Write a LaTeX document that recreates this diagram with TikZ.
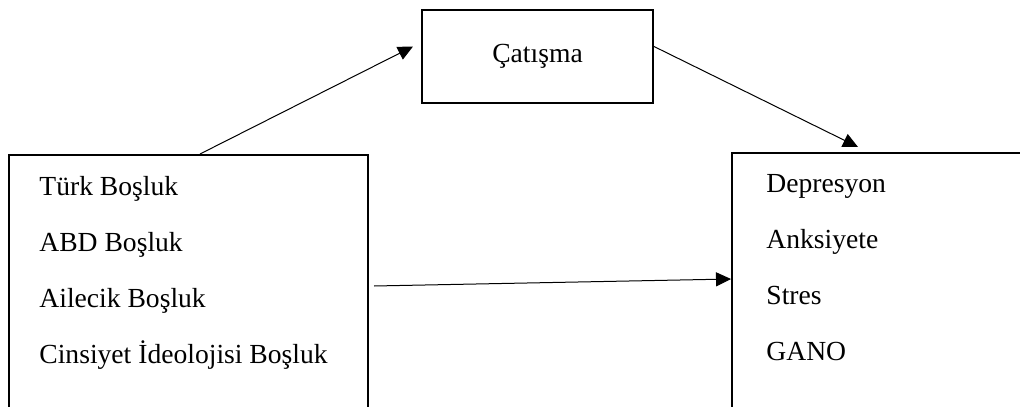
\documentclass[tikz,border=0pt]{standalone}
\usepackage{fontspec}
\setmainfont{Liberation Serif}
\usetikzlibrary{arrows.meta}
\tikzset{
  kutu/.style={draw,line width=1pt,inner sep=0pt,anchor=north west,font=\fontsize{13.8}{16}\selectfont},
  ok/.style={-{Triangle[length=7.5pt,width=7pt]},line width=0.5pt},
  yazi/.style={anchor=base west,inner sep=0pt,font=\fontsize{13.8}{16}\selectfont}
}
\begin{document}
\begin{tikzpicture}[x=0.5pt,y=-0.5pt]
\useasboundingbox (0,0) rectangle (1020,406);
\clip (0,0) rectangle (1020,406);
\node[kutu,minimum width=115.5pt,minimum height=46.5pt] (cat) at (421,9) {Çatışma};
\node[kutu,minimum width=179.5pt,minimum height=143pt] (sol) at (8,154) {};
\node[kutu,minimum width=154.5pt,minimum height=143pt] (sag) at (731,152) {};
\foreach \ad [count=\i] in {Türk Boşluk,ABD Boşluk,Ailecik Boşluk,Cinsiyet İdeolojisi Boşluk}
  \node[yazi] (sol-\i) at (39,{195+56*(\i-1)}) {\ad};
\foreach \ad [count=\i] in {Depresyon,Anksiyete,Stres,GANO}
  \node[yazi] (sag-\i) at (766,{192+56*(\i-1)}) {\ad};
\draw[ok] ([xshift=96pt]sol.north west) -- ([xshift=-4pt,yshift=5pt]cat.west);
\draw[ok] ([yshift=5pt]cat.east) -- ([xshift=63.5pt,yshift=2.5pt]sag.north west);
\draw[ok] ([xshift=2.5pt,yshift=-66pt]sol.north east) -- ([yshift=-63.5pt]sag.north west);
\end{tikzpicture}
\end{document}
